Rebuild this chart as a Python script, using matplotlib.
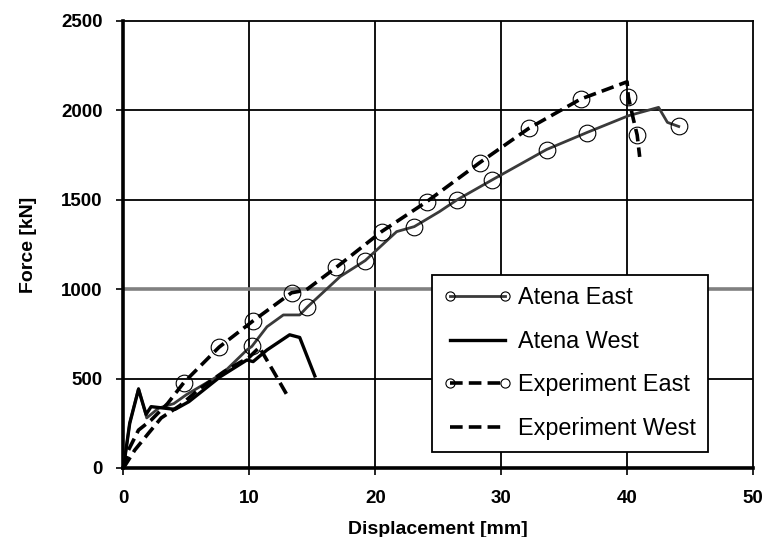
import matplotlib
matplotlib.use('Agg')
import matplotlib.pyplot as plt

plt.rcParams['font.family'] = ['Liberation Sans', 'DejaVu Sans']

# Atena East (solid with open circles)
atena_east_x = [0, 0.5, 1.2, 1.85, 2.8, 4.0, 5.0, 7.9, 9.8, 10.2, 11.4, 12.7, 14.0, 14.6,
                17.2, 19.2, 21.7, 23.1, 25.1, 26.5, 29.3, 33.6, 36.8, 40.1, 42.5, 43.2, 44.1]
atena_east_y = [0, 250, 445, 280, 335, 360, 410, 530, 660, 680, 790, 856, 856, 900,
                1070, 1160, 1322, 1350, 1434, 1500, 1612, 1781, 1876, 1970, 2017, 1933, 1910]
atena_east_marks = [9, 13, 15, 17, 19, 20, 21, 22, 26]

# Atena West (solid)
atena_west_x = [0, 0.5, 1.2, 1.8, 2.2, 4.1, 5.2, 7.7, 9.8, 10.3, 11.4, 13.2, 14.0, 15.2]
atena_west_y = [0, 250, 440, 300, 343, 328, 371, 511, 604, 595, 660, 745, 730, 515]

# Experiment East (dashed with open circles)
exp_east_x = [0, 0.4, 1.2, 2.2, 3.5, 4.8, 7.6, 10.3, 13.35, 14.5, 16.9, 20.5, 24.1, 28.3,
              32.2, 36.3, 40.0, 40.1, 40.5, 40.8, 41.0]
exp_east_y = [0, 100, 212, 268, 360, 478, 676, 823, 980, 995, 1122, 1322, 1490, 1708,
              1900, 2063, 2160, 2075, 1950, 1862, 1740]
exp_east_marks = [5, 6, 7, 8, 10, 11, 12, 13, 14, 15, 17, 19]

# Experiment West (dashed)
exp_west_x = [0, 0.9, 2.0, 3.0, 4.5, 6.0, 8.0, 10.0, 10.8, 12.0, 13.1]
exp_west_y = [0, 100, 195, 280, 350, 440, 540, 620, 675, 530, 395]

x_ticks = [0, 10, 20, 30, 40, 50]
y_ticks = [0, 500, 1000, 1500, 2000, 2500]

fig = plt.figure(figsize=(7.68, 5.37), dpi=100)
ax = fig.add_axes([0.1607, 0.1285, 0.8198, 0.8324])

# grid
for xv in x_ticks[1:-1]:
    ax.axvline(xv, color='black', lw=1.3, zorder=1)
for yv in y_ticks[1:-1]:
    if yv == 1000:
        ax.axhline(yv, color='#808080', lw=2.6, zorder=1)
    else:
        ax.axhline(yv, color='black', lw=1.3, zorder=1)

dash = (0, (3.5, 1.7))
ax.plot(atena_east_x, atena_east_y, color='#3a3a3a', lw=2.0, marker='o', markevery=atena_east_marks,
        markersize=12, markerfacecolor='none', markeredgecolor='black', markeredgewidth=0.8,
        label='Atena East', zorder=3)
ax.plot(atena_west_x, atena_west_y, color='black', lw=2.4, label='Atena West', zorder=3)
ax.plot(exp_east_x, exp_east_y, color='black', lw=2.6, linestyle=dash, marker='o',
        markevery=exp_east_marks, markersize=12, markerfacecolor='none', markeredgecolor='black',
        markeredgewidth=0.8, label='Experiment East', zorder=3)
ax.plot(exp_west_x, exp_west_y, color='black', lw=2.6, linestyle=dash, label='Experiment West', zorder=3)

ax.set_xlim(0, 50)
ax.set_ylim(0, 2500)
ax.set_xticks(x_ticks)
ax.set_yticks(y_ticks)
ax.tick_params(direction='out', length=5, width=1.2, labelsize=13.5)
ax.tick_params(axis='x', pad=11)
ax.tick_params(axis='y', pad=10)
for lab in ax.get_xticklabels() + ax.get_yticklabels():
    lab.set_fontweight('bold')

for side in ['left', 'bottom']:
    ax.spines[side].set_linewidth(2.6)
for side in ['top', 'right']:
    ax.spines[side].set_linewidth(1.3)

ax.set_xlabel('Displacement [mm]', fontsize=14, fontweight='bold', labelpad=10)
ax.set_ylabel('Force [kN]', fontsize=14, fontweight='bold', labelpad=17)

leg = ax.legend(loc='lower left', bbox_to_anchor=(0.4897, 0.0365), borderaxespad=0,
                fontsize=16.8, numpoints=2, markerscale=0.55, handlelength=2.95,
                labelspacing=0.88, handletextpad=0.26, borderpad=0.5, fancybox=False,
                framealpha=1, edgecolor='black')
leg.get_frame().set_linewidth(1.3)
leg.set_zorder(5)

fig.savefig('out.png', dpi=100)
